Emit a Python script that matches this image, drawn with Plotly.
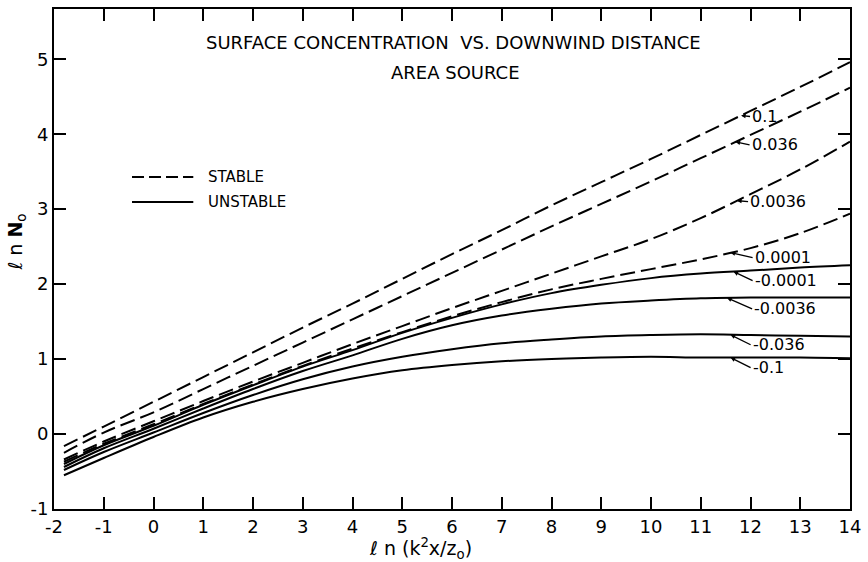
import numpy as np
import plotly.graph_objects as go

# ln(k^2 x / z0) sample positions
x_vals = [-1.8, -1, 0, 1, 2, 3, 4, 5, 6, 7, 8, 9, 10, 11, 12, 13, 14]

# ln N0 for stable stratification (parameter values as labelled)
stable_labels = ["0.1", "0.036", "0.0036", "0.0001"]
stable_01 = [-0.16, 0.10, 0.43, 0.76, 1.09, 1.42, 1.74, 2.07, 2.40, 2.72, 3.05, 3.36, 3.67, 3.99, 4.31, 4.63, 4.96]
stable_0036 = [-0.25, 0.02, 0.29, 0.60, 0.91, 1.22, 1.53, 1.84, 2.15, 2.46, 2.77, 3.07, 3.37, 3.68, 3.99, 4.30, 4.62]
stable_00036 = [-0.34, -0.10, 0.17, 0.44, 0.70, 0.95, 1.20, 1.44, 1.68, 1.91, 2.14, 2.37, 2.60, 2.88, 3.20, 3.53, 3.90]
stable_00001 = [-0.37, -0.13, 0.13, 0.40, 0.66, 0.91, 1.14, 1.36, 1.57, 1.76, 1.93, 2.07, 2.20, 2.33, 2.48, 2.68, 2.94]

# ln N0 for unstable stratification
unstable_labels = ["-0.0001", "-0.0036", "-0.036", "-0.1"]
unstable_00001 = [-0.40, -0.15, 0.11, 0.39, 0.65, 0.90, 1.12, 1.35, 1.55, 1.73, 1.88, 1.99, 2.08, 2.14, 2.18, 2.22, 2.25]
unstable_00036 = [-0.44, -0.19, 0.07, 0.34, 0.60, 0.84, 1.05, 1.27, 1.45, 1.58, 1.67, 1.74, 1.78, 1.81, 1.82, 1.82, 1.82]
unstable_0036 = [-0.48, -0.24, 0.02, 0.28, 0.52, 0.73, 0.90, 1.03, 1.13, 1.21, 1.26, 1.30, 1.32, 1.33, 1.32, 1.31, 1.30]
unstable_01 = [-0.55, -0.32, -0.04, 0.22, 0.43, 0.60, 0.74, 0.85, 0.92, 0.97, 1.00, 1.02, 1.03, 1.02, 1.02, 1.02, 1.01]

# where each curve label points (x position along the curve)
stable_label_x = [11.81, 11.70, 11.73, 11.60]
unstable_label_x = [11.66, 11.53, 11.60, 11.60]

x_ticks = list(range(-2, 15))
y_ticks = list(range(-1, 6))

stable_series = [stable_01, stable_0036, stable_00036, stable_00001]
unstable_series = [unstable_00001, unstable_00036, unstable_0036, unstable_01]

FONT = "DejaVu Sans"
fig = go.Figure()

for ys in stable_series:
    fig.add_trace(go.Scatter(x=x_vals, y=ys, mode="lines", line_shape="spline",
                             line=dict(color="black", width=2, dash="15px,6px"),
                             showlegend=False, hoverinfo="skip"))
for ys in unstable_series:
    fig.add_trace(go.Scatter(x=x_vals, y=ys, mode="lines", line_shape="spline",
                             line=dict(color="black", width=2),
                             showlegend=False, hoverinfo="skip"))

annotations = []
# curve labels with leader arrows
stable_offsets = [(9, 1), (14, 3), (11, 1), (22, 5)]
unstable_offsets = [(19, 9), (25, 11), (20, 10), (20, 10)]
for lab, lx, ys, (ax, ay) in zip(stable_labels, stable_label_x, stable_series, stable_offsets):
    annotations.append(dict(x=lx, y=float(np.interp(lx, x_vals, ys)), text=lab,
                            showarrow=True, arrowhead=2, arrowsize=0.7, arrowwidth=1.3,
                            arrowcolor="black", ax=ax, ay=ay, xanchor="left",
                            font=dict(family=FONT, size=16, color="black")))
for lab, lx, ys, (ax, ay) in zip(unstable_labels, unstable_label_x, unstable_series, unstable_offsets):
    annotations.append(dict(x=lx, y=float(np.interp(lx, x_vals, ys)), text=lab,
                            showarrow=True, arrowhead=2, arrowsize=0.7, arrowwidth=1.3,
                            arrowcolor="black", ax=ax, ay=ay, xanchor="left",
                            font=dict(family=FONT, size=16, color="black")))

# title block
annotations += [
    dict(text="SURFACE CONCENTRATION  VS. DOWNWIND DISTANCE", x=0.502, y=0.932,
         xref="paper", yref="paper", xanchor="center", yanchor="middle", showarrow=False,
         font=dict(family=FONT, size=18, color="black")),
    dict(text="AREA SOURCE", x=0.504, y=0.874, xref="paper", yref="paper",
         xanchor="center", yanchor="middle", showarrow=False,
         font=dict(family=FONT, size=18, color="black")),
    # legend text
    dict(text="STABLE", x=0.191, y=0.664, xref="paper", yref="paper", xanchor="left",
         yanchor="middle", showarrow=False, font=dict(family=FONT, size=15, color="black")),
    dict(text="UNSTABLE", x=0.191, y=0.614, xref="paper", yref="paper", xanchor="left",
         yanchor="middle", showarrow=False, font=dict(family=FONT, size=15, color="black")),
    # axis titles
    dict(text="ℓ n (k<sup>2</sup>x/z<sub>o</sub>)", x=0.46, y=-0.078, xref="paper", yref="paper",
         xanchor="center", yanchor="middle", showarrow=False,
         font=dict(family=FONT, size=19, color="black")),
    dict(text="ℓ n <b>N</b><sub>o</sub>", x=-0.047, y=0.534, xref="paper", yref="paper",
         xanchor="center", yanchor="middle", showarrow=False, textangle=-90,
         font=dict(family=FONT, size=19, color="black")),
]

shapes = [
    dict(type="line", xref="paper", yref="paper", x0=0.098, x1=0.175, y0=0.664, y1=0.664,
         line=dict(color="black", width=2, dash="12px,5px")),
    dict(type="line", xref="paper", yref="paper", x0=0.098, x1=0.175, y0=0.614, y1=0.614,
         line=dict(color="black", width=2)),
]

axis_common = dict(showgrid=False, zeroline=False, showline=True, linecolor="black",
                   linewidth=2, mirror="ticks", ticks="inside", ticklen=12, tickwidth=2,
                   tickcolor="black", ticklabeloverflow="allow",
                   tickfont=dict(family=FONT, size=18, color="black"))

fig.update_layout(
    width=868, height=562,
    margin=dict(l=54, r=7, t=9, b=53),
    paper_bgcolor="white", plot_bgcolor="white",
    xaxis=dict(range=[-2, 14], tickvals=x_ticks, ticktext=[str(v) for v in x_ticks], **axis_common),
    yaxis=dict(range=[-1, 5.67], tickvals=y_ticks, ticktext=[str(v) for v in y_ticks], **axis_common),
    annotations=annotations, shapes=shapes, showlegend=False,
)

fig.write_html("out.html")
